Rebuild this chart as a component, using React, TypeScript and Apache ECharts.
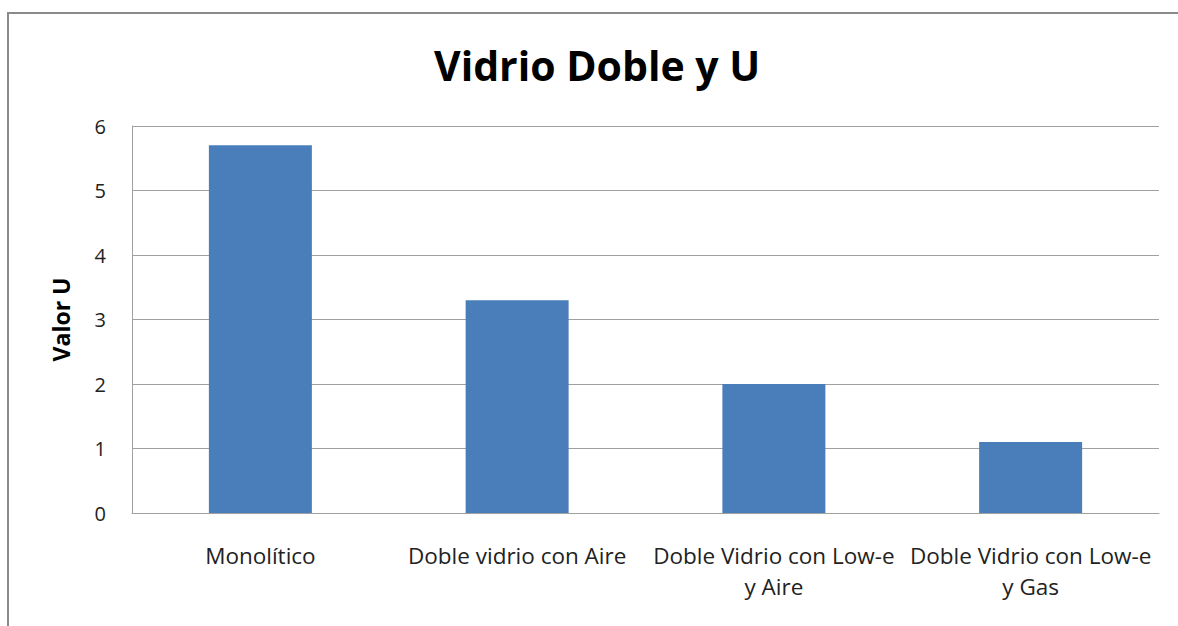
import React, { useEffect, useRef } from "react";
import * as echarts from "echarts";

const categories = [
  "Monolítico",
  "Doble vidrio con Aire",
  "Doble Vidrio con Low-e\ny Aire",
  "Doble Vidrio con Low-e\ny Gas",
];
const values = [5.7, 3.3, 2.0, 1.1];
const title = "Vidrio Doble y U";
const yName = "Valor U";

export default function App() {
  const ref = useRef<HTMLDivElement>(null);
  useEffect(() => {
    if (!ref.current) return;
    const chart = echarts.init(ref.current, null, { renderer: "svg" });
    const font = "'Open Sans', sans-serif";
    chart.setOption({
      animation: false,
      backgroundColor: "#ffffff",
      title: {
        text: title,
        left: 429,
        top: 39,
        textStyle: { fontFamily: font, fontSize: 41, fontWeight: "bold", color: "#000" },
      },
      graphic: [
        {
          type: "rect",
          shape: { x: 8, y: 13, width: 1200, height: 700 },
          style: { fill: "none", stroke: "#8a8a8a", lineWidth: 2 },
          silent: true,
        },
      ],
      grid: { left: 132, right: 19, top: 126, bottom: 113, containLabel: false },
      xAxis: {
        type: "category",
        data: categories,
        axisLine: { lineStyle: { color: "#a0a0a0", width: 1 } },
        axisTick: { show: false },
        axisLabel: {
          interval: 0,
          margin: 27,
          fontFamily: font,
          fontSize: 22.5,
          color: "#222",
          lineHeight: 31,
        },
      },
      yAxis: {
        type: "value",
        min: 0,
        max: 6,
        interval: 1,
        name: yName,
        nameLocation: "middle",
        nameGap: 60,
        nameRotate: 90,
        nameTextStyle: { fontFamily: font, fontSize: 23, fontWeight: "bold", color: "#000" },
        axisLine: { show: true, lineStyle: { color: "#a0a0a0", width: 1 } },
        axisTick: { show: false },
        axisLabel: { fontFamily: font, fontSize: 20, color: "#222", margin: 26 },
        splitLine: { lineStyle: { color: "#a0a0a0", width: 1 } },
      },
      series: [
        {
          type: "bar",
          data: values,
          barWidth: 103,
          itemStyle: { color: "#4a7ebb" },
        },
      ],
    });
    return () => chart.dispose();
  }, []);
  return (
    <div
      ref={ref}
      style={{ position: "absolute", left: 0, top: 0, width: 1178, height: 626 }}
    />
  );
}
